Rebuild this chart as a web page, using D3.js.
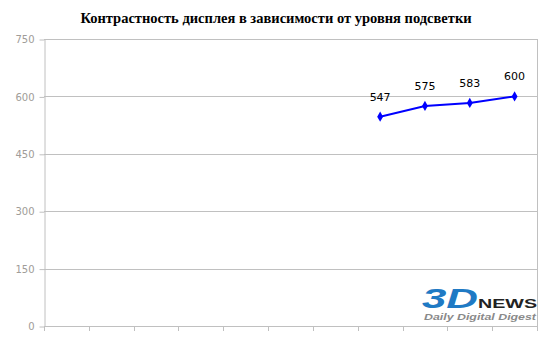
<!DOCTYPE html>
<html><head><meta charset="utf-8">
<script src="https://cdn.jsdelivr.net/npm/d3@7"></script>
<style>body{margin:0;background:#fff}svg{display:block}</style>
</head><body>
<script>
const title = "Контрастность дисплея в зависимости от уровня подсветки";
const categories = ["c1","c2","c3","c4","c5","c6","c7","c8","c9","c10","c11"];
const values = [null,null,null,null,null,null,null,547,575,583,600];
const yTicks = [0,150,300,450,600,750];

const W=550,H=340, m={l:44,r:13,t:39,b:14};
const svg=d3.select("body").append("svg").attr("width",W).attr("height",H);
svg.append("rect").attr("width",W).attr("height",H).attr("fill","#fff");

const x=d3.scaleBand().domain(categories).range([m.l,W-m.r]).padding(0);
const y=d3.scaleLinear().domain([0,750]).range([H-m.b,m.t]);

svg.append("text").attr("x",276).attr("y",23).attr("text-anchor","middle")
  .attr("font-family","Liberation Serif, Times New Roman, serif").attr("font-weight","bold")
  .attr("font-size",14.5).attr("fill","#000").text(title);

// gridlines
svg.append("g").selectAll("line").data(yTicks).join("line")
  .attr("x1",m.l).attr("x2",W-m.r).attr("y1",d=>Math.round(y(d))+0.5).attr("y2",d=>Math.round(y(d))+0.5)
  .attr("stroke","#c0c0c0");
// right border
svg.append("line").attr("x1",W-m.r+0.5).attr("x2",W-m.r+0.5).attr("y1",Math.round(y(750))).attr("y2",Math.round(y(0))+1).attr("stroke","#c0c0c0");

const yAxis=svg.append("g").attr("transform",`translate(${m.l+0.5},0.5)`)
  .call(d3.axisLeft(y).tickValues(yTicks).tickSize(5).tickSizeOuter(0).tickPadding(5));
yAxis.selectAll("path,line").attr("stroke","#c0c0c0");
yAxis.selectAll("text").attr("fill","#a09c98").attr("font-family","DejaVu Sans, sans-serif").attr("font-size",10);

const xAxis=svg.append("g").attr("transform",`translate(0.5,${Math.round(y(0))+0.5})`)
  .call(d3.axisBottom(x).tickSize(0).tickFormat(""));
xAxis.select("path").attr("stroke","#c0c0c0").attr("d",`M${m.l},0H${W-m.r}`);
const bounds=categories.map(c=>x(c)).concat([W-m.r]);
svg.append("g").selectAll("line").data(bounds).join("line")
  .attr("x1",d=>Math.round(d)+0.5).attr("x2",d=>Math.round(d)+0.5)
  .attr("y1",Math.round(y(0))).attr("y2",Math.round(y(0))+5).attr("stroke","#c0c0c0");

const pts=categories.map((c,i)=>({c,v:values[i]})).filter(d=>d.v!=null);
const cx=d=>x(d.c)+x.bandwidth()/2;
svg.append("path").datum(pts).attr("fill","none").attr("stroke","#0000ff").attr("stroke-width",2)
  .attr("d",d3.line().x(cx).y(d=>y(d.v)));
svg.append("g").selectAll("path").data(pts).join("path")
  .attr("d",d3.symbol(d3.symbolDiamond,30)).attr("transform",d=>`translate(${cx(d)},${y(d.v)})`)
  .attr("fill","#0000ff");
svg.append("g").selectAll("text").data(pts).join("text")
  .attr("x",cx).attr("y",d=>y(d.v)-16).attr("text-anchor","middle")
  .attr("font-family","DejaVu Sans, sans-serif").attr("font-size",11).attr("fill","#000")
  .text(d=>d.v);

// logo
const lg=svg.append("g");
lg.append("text").attr("x",422).attr("y",308).attr("font-family","Liberation Sans, Arial, sans-serif")
  .attr("font-weight","bold").attr("font-style","italic").attr("font-size",28).attr("fill","#1f7ac4")
  .attr("textLength",56).attr("lengthAdjust","spacingAndGlyphs").text("3D");
lg.append("text").attr("x",478).attr("y",308).attr("font-family","Liberation Sans, Arial, sans-serif")
  .attr("font-weight","bold").attr("font-size",13).attr("fill","#222")
  .attr("textLength",59).attr("lengthAdjust","spacingAndGlyphs").text("NEWS");
lg.append("text").attr("x",424).attr("y",320).attr("font-family","Liberation Sans, Arial, sans-serif")
  .attr("font-weight","bold").attr("font-style","italic").attr("font-size",9).attr("fill","#8a8a8a")
  .attr("textLength",112).attr("lengthAdjust","spacingAndGlyphs").text("Daily Digital Digest");
</script>
</body></html>
